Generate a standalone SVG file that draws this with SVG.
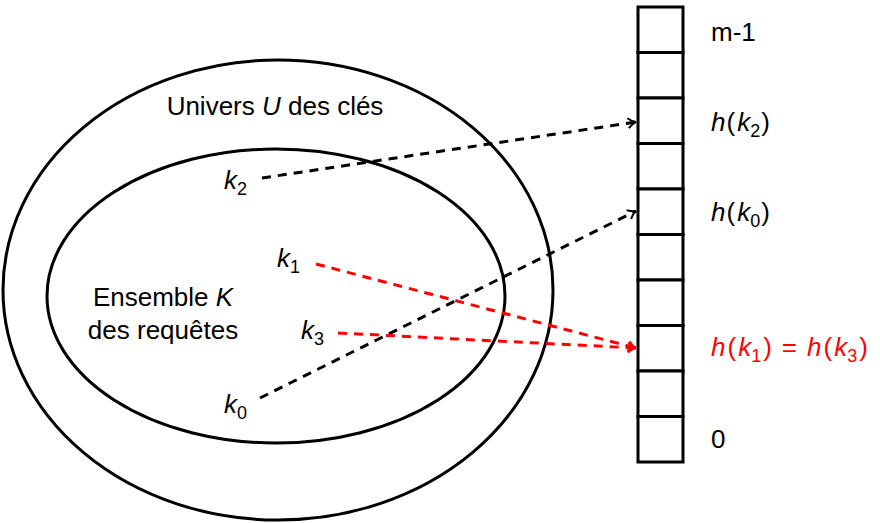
<svg xmlns="http://www.w3.org/2000/svg" width="880" height="523" viewBox="0 0 880 523">
<defs>
<style>
.t{font-family:"Liberation Sans",Arial,sans-serif;font-size:26px;fill:#000}
.i{font-style:italic}
.s{font-size:18px}
.red{fill:#ff0000}
.shape{fill:none;stroke:#000;stroke-width:3}
.cell{fill:#fff;stroke:#000;stroke-width:3}
.d{fill:none;stroke-width:3;stroke-dasharray:9,7}
</style>
<marker id="ab" viewBox="0 0 12 12" refX="10" refY="6" markerWidth="12" markerHeight="12" markerUnits="userSpaceOnUse" orient="auto">
<path d="M2,1 Q6,5 10,6 Q6,7 2,11" fill="none" stroke="#000" stroke-width="2"/>
</marker>
<marker id="ar" viewBox="0 0 12 12" refX="10" refY="6" markerWidth="12" markerHeight="12" markerUnits="userSpaceOnUse" orient="auto">
<path d="M2,1 Q6,5 10,6 Q6,7 2,11" fill="none" stroke="#ff0000" stroke-width="2"/>
</marker>
</defs>
<g id="universe">
<ellipse class="shape" cx="278" cy="290" rx="275" ry="230"/>
<text class="t" x="275" y="115" text-anchor="middle">Univers <tspan class="i">U</tspan> des clés</text>
</g>
<g id="requests">
<ellipse class="shape" cx="276" cy="296" rx="229" ry="147"/>
<text class="t" x="163" y="306" text-anchor="middle">Ensemble <tspan class="i">K</tspan></text>
<text class="t" x="163" y="339" text-anchor="middle">des requêtes</text>
</g>
<g id="table">
<rect class="cell" x="638" y="7" width="45" height="45.5"/>
<rect class="cell" x="638" y="52.5" width="45" height="45.5"/>
<rect class="cell" x="638" y="98" width="45" height="45.5"/>
<rect class="cell" x="638" y="143.5" width="45" height="45.5"/>
<rect class="cell" x="638" y="189" width="45" height="45.5"/>
<rect class="cell" x="638" y="234.5" width="45" height="45.5"/>
<rect class="cell" x="638" y="280" width="45" height="45.5"/>
<rect class="cell" x="638" y="325.5" width="45" height="45.5"/>
<rect class="cell" x="638" y="371" width="45" height="45.5"/>
<rect class="cell" x="638" y="416.5" width="45" height="45.5"/>
<text class="t" x="711" y="41">m-1</text>
<text class="t" x="711" y="131"><tspan class="i">h</tspan><tspan dx="1">(</tspan><tspan class="i" dx="2">k</tspan><tspan class="s" dy="6">2</tspan><tspan dy="-6" dx="1">)</tspan></text>
<text class="t" x="711" y="221"><tspan class="i">h</tspan><tspan dx="1">(</tspan><tspan class="i" dx="2">k</tspan><tspan class="s" dy="6">0</tspan><tspan dy="-6" dx="1">)</tspan></text>
<text class="t red" x="711" y="356"><tspan class="i">h</tspan><tspan dx="2">(</tspan><tspan class="i" dx="2">k</tspan><tspan class="s" dy="6">1</tspan><tspan dy="-6" dx="2">)</tspan><tspan dx="10">=</tspan><tspan class="i" dx="10">h</tspan><tspan dx="2">(</tspan><tspan class="i" dx="2">k</tspan><tspan class="s" dy="6">3</tspan><tspan dy="-6" dx="2">)</tspan></text>
<text class="t" x="711" y="448">0</text>
</g>
<g id="keys">
<text class="t" x="224" y="189"><tspan class="i">k</tspan><tspan class="s" dy="6">2</tspan></text>
<text class="t" x="277" y="267"><tspan class="i">k</tspan><tspan class="s" dy="6">1</tspan></text>
<text class="t" x="301" y="339"><tspan class="i">k</tspan><tspan class="s" dy="6">3</tspan></text>
<text class="t" x="224" y="413"><tspan class="i">k</tspan><tspan class="s" dy="6">0</tspan></text>
</g>
<g id="connectors">
<path class="d" stroke="#000" d="M262,178 L636,122" marker-end="url(#ab)"/>
<path class="d" stroke="#000" d="M260,398 L636,211" marker-end="url(#ab)"/>
<path class="d" stroke="#ff0000" d="M316,264 L636,348" marker-end="url(#ar)"/>
<path class="d" stroke="#ff0000" d="M338,333 L636,348" marker-end="url(#ar)"/>
</g>
</svg>
